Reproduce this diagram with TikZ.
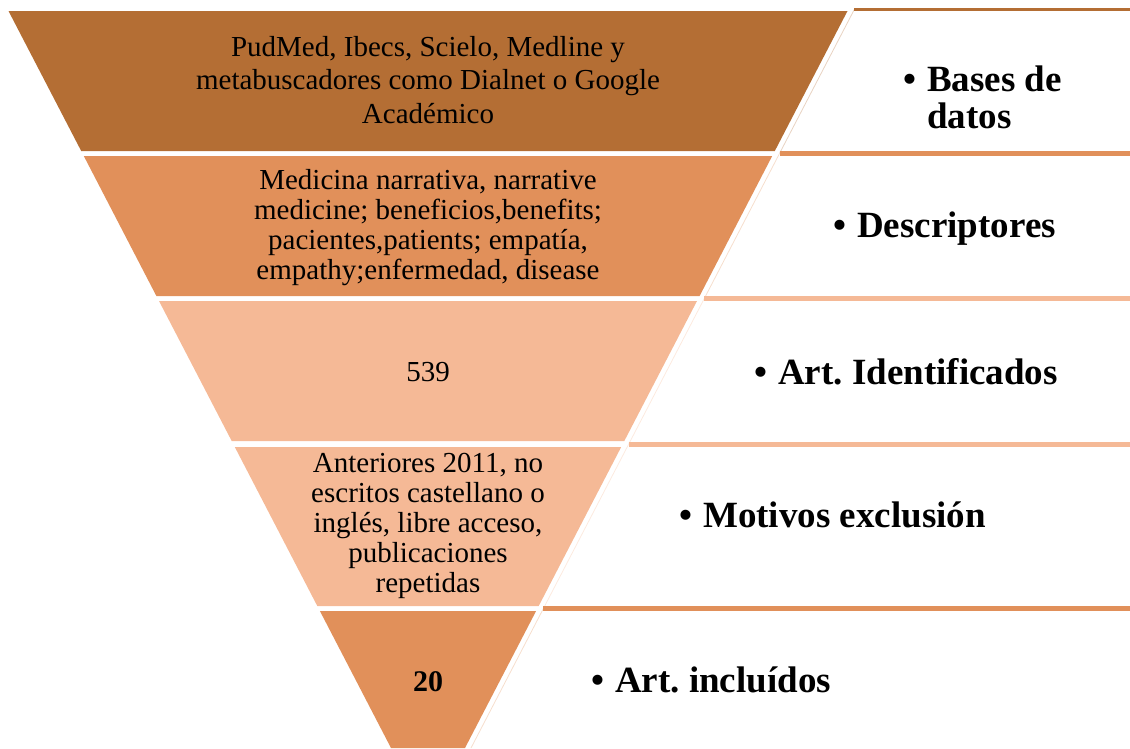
\documentclass[tikz,border=0pt]{standalone}
\usepackage{fontspec}
\setmainfont{Liberation Serif}
\frenchspacing
\definecolor{bandA}{HTML}{B46E34}
\definecolor{bandB}{HTML}{E1905A}
\definecolor{bandC}{HTML}{F5B996}
\begin{document}
\begin{tikzpicture}[x=1pt,y=-1pt,
  band/.style={fill=#1,draw=none},
  bandtext/.style={align=center,inner sep=0pt,font=\fontsize{29}{30}\selectfont},
  topline/.style={draw=#1,line width=5pt},
  sideline/.style={draw=#1!30,line width=0.8pt},
  label/.style={anchor=base west,inner sep=0pt,font=\fontsize{37}{37}\selectfont\bfseries}]
\useasboundingbox (0,0) rectangle (1130,748);

% funnel bands
\fill[band=bandA] (8.5,11) -- (847.5,11) -- (774.8,151) -- (81.2,151) -- cycle;
\fill[band=bandB] (83.8,156) -- (772.2,156) -- (699.6,296) -- (156.4,296) -- cycle;
\fill[band=bandC] (159.0,301) -- (697.0,301) -- (624.3,441) -- (231.7,441) -- cycle;
\fill[band=bandC] (234.8,447) -- (621.2,447) -- (538.7,606) -- (317.3,606) -- cycle;
\fill[band=bandB] (319.9,611) -- (536.1,611) -- (465.0,748) -- (391.0,748) -- cycle;

% corners of the side boxes
\coordinate (b1) at (854.3,9.5);
\coordinate (b2) at (779.5,153.5);
\coordinate (b3) at (704.3,298.5);
\coordinate (b4) at (628.5,444.5);
\coordinate (b5) at (543.4,608.5);
\coordinate (b6) at (471.0,748);

% slanted left sides of the boxes
\draw[sideline=bandA] (b1) -- (b2);
\draw[sideline=bandB] (b2) -- (b3);
\draw[sideline=bandC] (b3) -- (b4);
\draw[sideline=bandC] (b4) -- (b5);
\draw[sideline=bandB] (b5) -- (b6);

% top rules of the boxes
\draw[topline=bandA,line width=3pt] (b1) -- (1130,9.5);
\draw[topline=bandB] (b2) -- (1130,153.5);
\draw[topline=bandC] (b3) -- (1130,298.5);
\draw[topline=bandC] (b4) -- (1130,444.5);
\draw[topline=bandB] (b5) -- (1130,608.5);

% texts inside the bands
\node[bandtext,font=\fontsize{29}{33.5}\selectfont] (t1) at (428,80)
  {PudMed, Ibecs, Scielo, Medline y\\metabuscadores como Dialnet o Google\\Académico};
\node[bandtext] (t2) at (428,228)
  {Medicina narrativa, narrative\\medicine; beneficios,benefits;\\pacientes,patients; empatía,\\empathy;enfermedad, disease};
\node[bandtext] (t3) at (428,372) {539};
\node[bandtext] (t4) at (428,526)
  {Anteriores 2011, no\\escritos castellano o\\inglés, libre acceso,\\publicaciones\\repetidas};
\node[bandtext,font=\fontsize{30}{30}\selectfont\bfseries] (t5) at (428,682) {20};

% labels in the side boxes
\node[label] (l1) at (903,91)
  {\begin{tabular}[t]{@{}l@{\hspace{11pt}}l@{}}\textbullet & Bases de\\ & datos\end{tabular}};
\node[label] (l2) at (833,237) {\textbullet\hspace{11pt}Descriptores};
\node[label] (l3) at (754,384) {\textbullet\hspace{11pt}Art. Identificados};
\node[label] (l4) at (679,527) {\textbullet\hspace{11pt}Motivos exclusión};
\node[label] (l5) at (591,692) {\textbullet\hspace{11pt}Art. incluídos};
\end{tikzpicture}
\end{document}
